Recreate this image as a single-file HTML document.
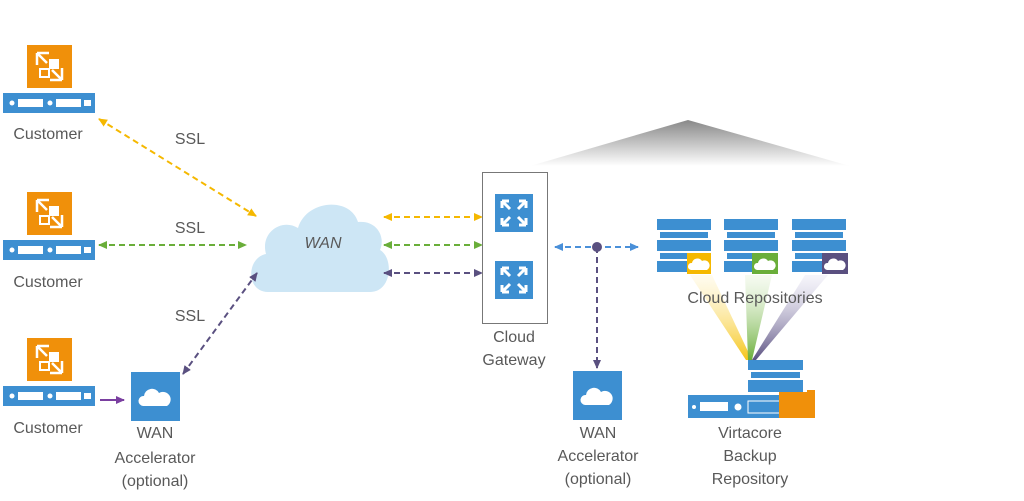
<!DOCTYPE html>
<html><head><style>body{margin:0;background:#fff}svg{display:block}text{font-family:"Liberation Sans",sans-serif;fill:#595959;font-size:16px}</style></head><body>
<svg width="1024" height="501" viewBox="0 0 1024 501" xmlns="http://www.w3.org/2000/svg">
<defs>
<linearGradient id="tri" x1="0" y1="0" x2="0" y2="1"><stop offset="0" stop-color="#888"/><stop offset="1" stop-color="#fff"/></linearGradient>
<linearGradient id="by" x1="0" y1="0" x2="0" y2="1"><stop offset="0" stop-color="#fff3c8" stop-opacity=".3"/><stop offset="1" stop-color="#f5c518"/></linearGradient>
<linearGradient id="bg" x1="0" y1="0" x2="0" y2="1"><stop offset="0" stop-color="#e0f0d0" stop-opacity=".3"/><stop offset="1" stop-color="#6aae3a"/></linearGradient>
<linearGradient id="bp" x1="0" y1="0" x2="0" y2="1"><stop offset="0" stop-color="#e0ddf0" stop-opacity=".3"/><stop offset="1" stop-color="#5a5080"/></linearGradient>
<g id="cust">
<rect x="27" y="0" width="45" height="43" fill="#f0900a"/>
<path d="M37 8h12M37 8v12M37 8l10 10M62 35h-12M62 35v-12M62 35l-10-10" stroke="#fff" stroke-width="2.5" fill="none"/>
<rect x="49" y="14" width="10" height="10" fill="#fff"/><rect x="40" y="24" width="9" height="8" fill="none" stroke="#fff" stroke-width="2"/>
<rect x="3" y="48" width="92" height="20" fill="#3d8fd1"/>
<circle cx="12" cy="58" r="2.5" fill="#fff"/><rect x="18" y="54" width="25" height="8" fill="#fff"/><circle cx="50" cy="58" r="2.5" fill="#fff"/><rect x="56" y="54" width="25" height="8" fill="#fff"/><rect x="84" y="55" width="7" height="6" fill="#fff"/>
</g>
<g id="cl"><path d="M-12 6a5 5 0 0 1 1-10a8 8 0 0 1 15-3a6 6 0 0 1 8 13z" fill="#fff"/></g>
<g id="cls"><path d="M-8 4a3.5 3.5 0 0 1 1-7a5.5 5.5 0 0 1 10-2a4 4 0 0 1 5 9z" fill="#fff"/></g>
<g id="gw"><rect width="38" height="38" fill="#3d8fd1"/><path d="M7 7l8 8M7 7h7M7 7v7M31 7l-8 8M31 7h-7M31 7v7M7 31l8-8M7 31h7M7 31v-7M31 31l-8-8M31 31h-7M31 31v-7" stroke="#fff" stroke-width="3"/></g>
<g id="stack"><rect width="54" height="11" fill="#3d8fd1"/><rect x="3" y="13" width="48" height="6" fill="#3d8fd1"/><rect y="21" width="54" height="11" fill="#3d8fd1"/><rect x="3" y="34" width="48" height="6" fill="#3d8fd1"/><rect y="42" width="54" height="11" fill="#3d8fd1"/></g>
<marker id="ay" markerUnits="userSpaceOnUse" markerWidth="10" markerHeight="10" refX="8" refY="5" orient="auto-start-reverse"><path d="M0 1L9 5L0 9z" fill="#f5b800"/></marker>
<marker id="ag" markerUnits="userSpaceOnUse" markerWidth="10" markerHeight="10" refX="8" refY="5" orient="auto-start-reverse"><path d="M0 1L9 5L0 9z" fill="#6aae3a"/></marker>
<marker id="ap" markerUnits="userSpaceOnUse" markerWidth="10" markerHeight="10" refX="8" refY="5" orient="auto-start-reverse"><path d="M0 1L9 5L0 9z" fill="#5a5080"/></marker>
<marker id="ab" markerUnits="userSpaceOnUse" markerWidth="10" markerHeight="10" refX="8" refY="5" orient="auto-start-reverse"><path d="M0 1L9 5L0 9z" fill="#4a90d9"/></marker>
<marker id="av" markerUnits="userSpaceOnUse" markerWidth="10" markerHeight="10" refX="8" refY="5" orient="auto-start-reverse"><path d="M0 1L9 5L0 9z" fill="#7a3fa0"/></marker>
</defs>
<polygon points="688,120 530,166 850,166" fill="url(#tri)"/>
<path d="M268 292c-22 0-22-34-2-38c-6-22 16-36 32-26c8-28 52-32 60-6c18-2 28 14 22 28c14 8 12 42-10 42z" fill="#cde6f5"/>
<text x="323" y="248" text-anchor="middle" font-style="italic" font-size="17">WAN</text>
<use href="#cust" y="45"/><use href="#cust" y="192"/><use href="#cust" y="338"/>
<text x="48" y="139" text-anchor="middle">Customer</text>
<text x="48" y="287" text-anchor="middle">Customer</text>
<text x="48" y="433" text-anchor="middle">Customer</text>
<g stroke-width="2" stroke-dasharray="6,4" fill="none">
<line x1="99" y1="119" x2="256" y2="216" stroke="#f5b800" marker-start="url(#ay)" marker-end="url(#ay)"/>
<line x1="99" y1="245" x2="246" y2="245" stroke="#6aae3a" marker-start="url(#ag)" marker-end="url(#ag)"/>
<line x1="183" y1="374" x2="257" y2="273" stroke="#5a5080" marker-start="url(#ap)" marker-end="url(#ap)"/>
<line x1="384" y1="217" x2="482" y2="217" stroke="#f5b800" marker-start="url(#ay)" marker-end="url(#ay)"/>
<line x1="384" y1="245" x2="482" y2="245" stroke="#6aae3a" marker-start="url(#ag)" marker-end="url(#ag)"/>
<line x1="384" y1="273" x2="482" y2="273" stroke="#5a5080" marker-start="url(#ap)" marker-end="url(#ap)"/>
<line x1="555" y1="247" x2="638" y2="247" stroke="#4a90d9" marker-start="url(#ab)" marker-end="url(#ab)"/>
<line x1="597" y1="247" x2="597" y2="368" stroke="#5a5080" marker-end="url(#ap)"/>
</g>
<line x1="100" y1="400" x2="124" y2="400" stroke="#7a3fa0" stroke-width="2" marker-end="url(#av)"/>
<circle cx="597" cy="247" r="5" fill="#5a5080"/>
<text x="190" y="144" text-anchor="middle">SSL</text>
<text x="190" y="233" text-anchor="middle">SSL</text>
<text x="190" y="321" text-anchor="middle">SSL</text>
<rect x="131" y="372" width="49" height="49" fill="#3d8fd1"/><use href="#cl" x="155" y="400"/>
<text x="155" y="438" text-anchor="middle">WAN</text><text x="155" y="463" text-anchor="middle">Accelerator</text><text x="155" y="486" text-anchor="middle">(optional)</text>
<rect x="482.5" y="172.5" width="65" height="151" fill="none" stroke="#777"/>
<use href="#gw" x="495" y="194"/><use href="#gw" x="495" y="261"/>
<text x="514" y="342" text-anchor="middle">Cloud</text><text x="514" y="365" text-anchor="middle">Gateway</text>
<rect x="573" y="371" width="49" height="49" fill="#3d8fd1"/><use href="#cl" x="597" y="399"/>
<text x="598" y="438" text-anchor="middle">WAN</text><text x="598" y="461" text-anchor="middle">Accelerator</text><text x="598" y="484" text-anchor="middle">(optional)</text>
<polygon points="690,275 712,275 752,360 746,360" fill="url(#by)"/>
<polygon points="745,275 772,275 752,360 748,360" fill="url(#bg)"/>
<polygon points="805,275 828,275 756,360 752,360" fill="url(#bp)"/>
<use href="#stack" x="657" y="219"/><use href="#stack" x="724" y="219"/><use href="#stack" x="792" y="219"/>
<rect x="687" y="253" width="24" height="21" fill="#f5b800"/><use href="#cls" x="699" y="266"/>
<rect x="752" y="253" width="26" height="21" fill="#6aae3a"/><use href="#cls" x="765" y="266"/>
<rect x="822" y="253" width="26" height="21" fill="#5a5080"/><use href="#cls" x="835" y="266"/>
<text x="755" y="303" text-anchor="middle" font-size="17">Cloud Repositories</text>
<rect x="748" y="360" width="55" height="10" fill="#3d8fd1"/><rect x="751" y="372" width="49" height="6" fill="#3d8fd1"/><rect x="748" y="380" width="55" height="12" fill="#3d8fd1"/>
<rect x="688" y="395" width="120" height="23" fill="#3d8fd1"/>
<circle cx="694" cy="407" r="2" fill="#fff"/><rect x="700" y="402" width="28" height="9" fill="#fff"/><circle cx="738" cy="407" r="3.5" fill="#fff"/><rect x="748" y="401" width="32" height="12" fill="none" stroke="#fff"/>
<path d="M779 392h28v-2h8v28h-36z" fill="#f0900a"/>
<text x="750" y="438" text-anchor="middle">Virtacore</text><text x="750" y="461" text-anchor="middle">Backup</text><text x="750" y="484" text-anchor="middle">Repository</text>
</svg></body></html>
